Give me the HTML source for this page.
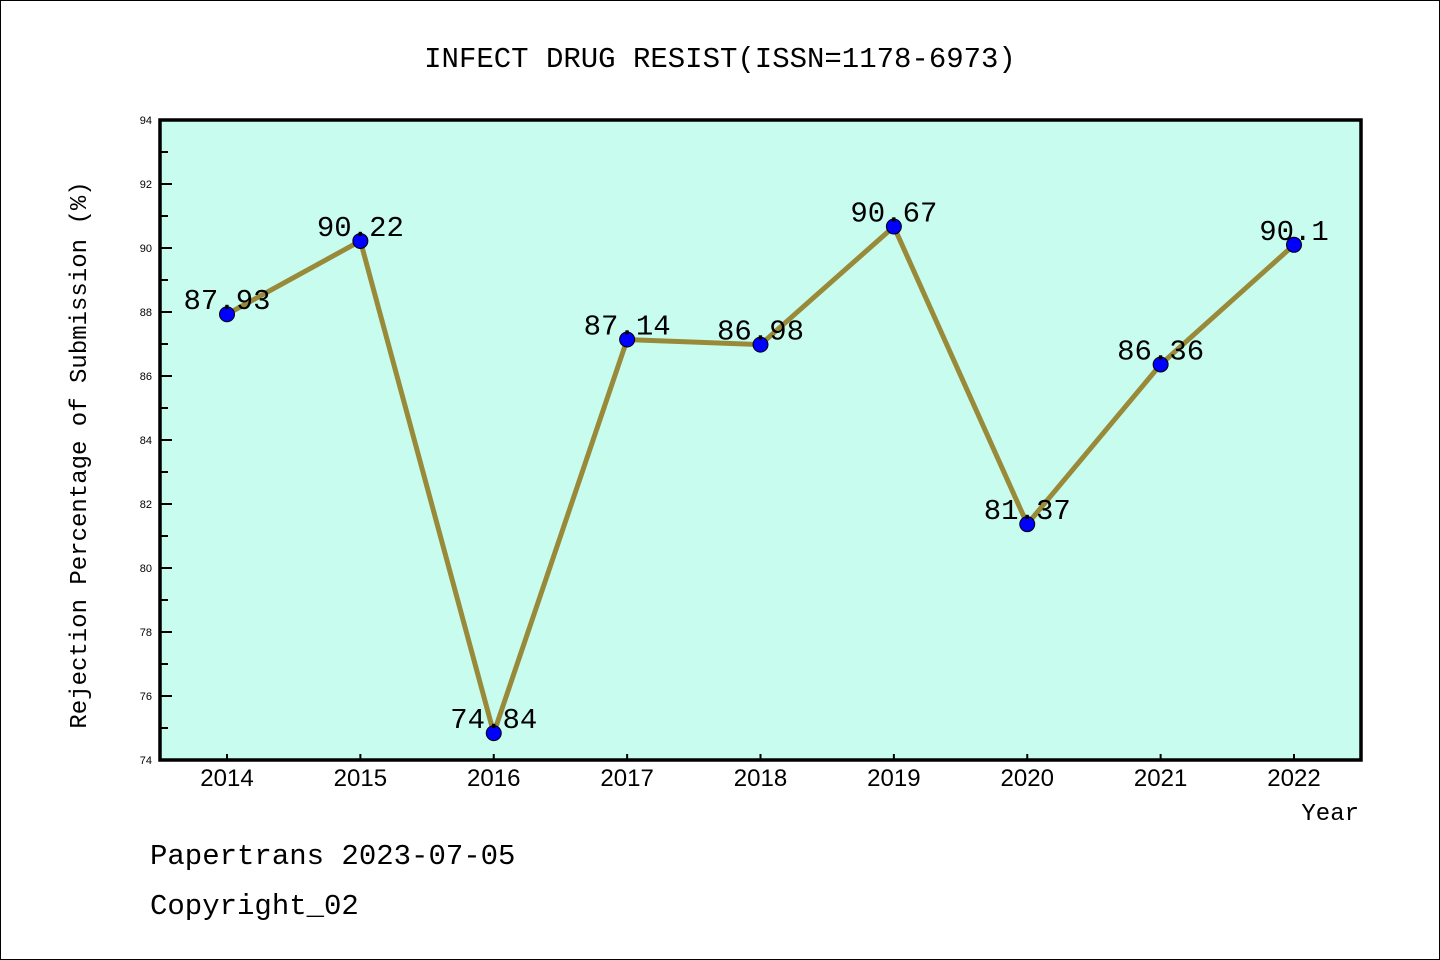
<!DOCTYPE html>
<html><head><meta charset="utf-8"><style>
body{margin:0;background:#fff}
svg{display:block;font-family:"Liberation Mono","DejaVu Sans Mono",monospace}
</style></head><body>
<svg id="chart" width="1440" height="960" xmlns="http://www.w3.org/2000/svg">
<rect x="0.5" y="0.5" width="1439" height="959" fill="#fff" stroke="#000"/>
<text x="720" y="67" text-anchor="middle" font-size="29">INFECT DRUG RESIST(ISSN=1178-6973)</text>
<rect x="160" y="120" width="1201" height="640" fill="#c8fcee"/>
<g id="axes"></g>
<g id="series"></g>
<rect x="160" y="120" width="1201" height="640" fill="none" stroke="#000" stroke-width="3.5"/>
<text x="86" y="455" text-anchor="middle" font-size="24" transform="rotate(-90 86 455)">Rejection Percentage of Submission (%)</text>
<text x="1359" y="820" text-anchor="end" font-size="24">Year</text>
<text x="150" y="864" font-size="29">Papertrans 2023-07-05</text>
<text x="150" y="914" font-size="29">Copyright_02</text>
</svg>
<script>
const years = [2014,2015,2016,2017,2018,2019,2020,2021,2022];
const values = [87.93,90.22,74.84,87.14,86.98,90.67,81.37,86.36,90.1];
const labels = ["87.93","90.22","74.84","87.14","86.98","90.67","81.37","86.36","90.1"];
const yTicks = [74,76,78,80,82,84,86,88,90,92,94];
const NS="http://www.w3.org/2000/svg";
const x = yr => 227 + (yr-2014)*(1294-227)/8;
const y = v => 760 - (v-74)*32;
function mk(tag,attrs,parent){const e=document.createElementNS(NS,tag);for(const k in attrs)e.setAttribute(k,attrs[k]);parent.appendChild(e);return e;}
const axes=document.getElementById('axes'), ser=document.getElementById('series');
yTicks.forEach(t=>{
  const tl=mk('line',{x1:160,x2:172,y1:y(t),y2:y(t),stroke:'#000','stroke-width':2},axes);
  
  
  if(t<94){const m=mk('line',{x1:160,x2:168,y1:y(t+1),y2:y(t+1),stroke:'#000','stroke-width':2},axes);
  
  }
  const tx=mk('text',{x:152,y:y(t)+4,'text-anchor':'end','font-size':11,'font-family':'Liberation Sans, sans-serif'},axes);
  tx.textContent=t;
  
  
});
years.forEach(yr=>{
  const tl=mk('line',{x1:x(yr),x2:x(yr),y1:760,y2:754,stroke:'#000','stroke-width':2},axes);
  
  
  const tx=mk('text',{x:x(yr),y:786,'text-anchor':'middle','font-size':24,'font-family':'Liberation Sans, sans-serif'},axes);
  tx.textContent=yr;
  
  
});
const line=mk('polyline',{points:years.map((yr,i)=>x(yr)+','+y(values[i])).join(' '),fill:'none',stroke:'#998a3a','stroke-width':5},ser);


years.forEach((yr,i)=>{
  const c=mk('circle',{cx:x(yr),cy:y(values[i]),r:7.5,fill:'#0000ff',stroke:'#000','stroke-width':1},ser);
  
  
  const t=mk('text',{x:x(yr),y:y(values[i])-5,'text-anchor':'middle','font-size':29},ser);
  t.textContent=labels[i];
  
  
});
</script>
</body></html>
